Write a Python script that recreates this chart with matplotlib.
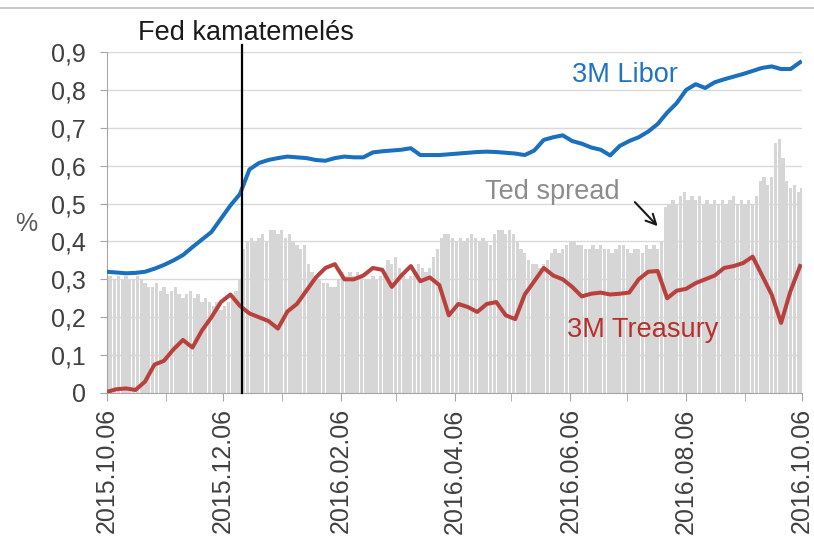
import matplotlib
matplotlib.use('Agg')
import matplotlib.pyplot as plt
import pandas as pd
from matplotlib.lines import Line2D

plt.rcParams['font.family'] = ['Liberation Sans', 'DejaVu Sans']

# ---- data ----
line_dates = pd.date_range('2015-10-06', periods=74, freq='5D')
libor = [0.320, 0.318, 0.316, 0.317, 0.320, 0.328, 0.338, 0.350, 0.364, 0.385,
         0.405, 0.425, 0.460, 0.495, 0.525, 0.590, 0.607, 0.615, 0.620, 0.624,
         0.622, 0.620, 0.615, 0.613, 0.620, 0.624, 0.622, 0.622, 0.635, 0.638,
         0.640, 0.642, 0.646, 0.628, 0.628, 0.628, 0.630, 0.632, 0.634, 0.636,
         0.637, 0.636, 0.634, 0.632, 0.628, 0.640, 0.668, 0.675, 0.680, 0.665,
         0.658, 0.648, 0.642, 0.627, 0.652, 0.665, 0.675, 0.690, 0.710, 0.740,
         0.765, 0.800, 0.815, 0.805, 0.820, 0.828, 0.835, 0.842, 0.850, 0.858,
         0.862, 0.855, 0.855, 0.873]
treasury = [0.003, 0.010, 0.012, 0.008, 0.030, 0.075, 0.085, 0.115, 0.140, 0.120,
            0.165, 0.200, 0.240, 0.260, 0.230, 0.210, 0.200, 0.190, 0.170, 0.215,
            0.235, 0.270, 0.305, 0.330, 0.340, 0.300, 0.300, 0.310, 0.330, 0.325,
            0.280, 0.310, 0.335, 0.295, 0.305, 0.285, 0.205, 0.235, 0.227, 0.214,
            0.235, 0.240, 0.205, 0.195, 0.260, 0.295, 0.330, 0.310, 0.300, 0.280,
            0.255, 0.262, 0.265, 0.260, 0.262, 0.265, 0.300, 0.320, 0.322, 0.250,
            0.270, 0.275, 0.290, 0.300, 0.310, 0.330, 0.335, 0.343, 0.360, 0.310,
            0.260, 0.185, 0.270, 0.335]

ted_dates = pd.date_range('2015-10-06', periods=184, freq='2D')
ted = [0.31, 0.31, 0.30, 0.31, 0.30, 0.31, 0.30, 0.30, 0.31, 0.30,
       0.29, 0.28, 0.28, 0.29, 0.27, 0.28, 0.26, 0.27, 0.28, 0.26,
       0.25, 0.26, 0.27, 0.25, 0.26, 0.24, 0.25, 0.24, 0.23, 0.24,
       0.22, 0.23, 0.24, 0.25, 0.27, 0.30, 0.38, 0.40, 0.41, 0.40,
       0.41, 0.42, 0.40, 0.43, 0.43, 0.42, 0.43, 0.41, 0.42, 0.40,
       0.39, 0.38, 0.39, 0.34, 0.32, 0.31, 0.30, 0.29, 0.29, 0.28,
       0.28, 0.30, 0.32, 0.31, 0.32, 0.31, 0.32, 0.31, 0.30, 0.30,
       0.31, 0.30, 0.31, 0.31, 0.35, 0.34, 0.36, 0.33, 0.31, 0.30,
       0.31, 0.32, 0.34, 0.33, 0.32, 0.33, 0.36, 0.38, 0.41, 0.42,
       0.42, 0.41, 0.40, 0.41, 0.40, 0.41, 0.42, 0.41, 0.40, 0.41,
       0.40, 0.39, 0.42, 0.43, 0.43, 0.42, 0.43, 0.42, 0.40, 0.38,
       0.37, 0.35, 0.34, 0.34, 0.33, 0.34, 0.35, 0.37, 0.38, 0.37,
       0.38, 0.39, 0.40, 0.40, 0.39, 0.39, 0.38, 0.38, 0.39, 0.38,
       0.39, 0.38, 0.38, 0.37, 0.38, 0.39, 0.39, 0.38, 0.37, 0.38,
       0.38, 0.37, 0.39, 0.38, 0.39, 0.38, 0.40, 0.49, 0.50, 0.51,
       0.50, 0.52, 0.53, 0.51, 0.52, 0.51, 0.52, 0.50, 0.51, 0.50,
       0.51, 0.50, 0.51, 0.50, 0.51, 0.52, 0.50, 0.51, 0.50, 0.51,
       0.50, 0.52, 0.56, 0.57, 0.55, 0.57, 0.66, 0.67, 0.62, 0.56,
       0.54, 0.55, 0.53, 0.54]

fed_date = '2015-12-16'
xtick_labels = ['2015.10.06', '2015.12.06', '2016.02.06', '2016.04.06',
                '2016.06.06', '2016.08.06', '2016.10.06']
xminor_labels = ['2015.11.06', '2016.01.06', '2016.03.06', '2016.05.06',
                 '2016.07.06', '2016.09.06']
ytick_values = [0, 0.1, 0.2, 0.3, 0.4, 0.5, 0.6, 0.7, 0.8, 0.9]
ytick_labels = ['0', '0,1', '0,2', '0,3', '0,4', '0,5', '0,6', '0,7', '0,8', '0,9']

# ---- figure ----
fig = plt.figure(figsize=(8.14, 5.43), dpi=100)
ax = fig.add_axes([107/814, 150/543, 695/814, 341/543])

ax.bar(ted_dates, ted, width=1.75, color='#d6d6d6', align='center', zorder=1, linewidth=0)
ax.plot(line_dates, treasury, color='#b8413d', lw=2.9, zorder=3, solid_joinstyle='round')
ax.plot(line_dates, libor, color='#1a6fbf', lw=2.9, zorder=3, solid_joinstyle='round')

fed = pd.Timestamp(fed_date)
ax.plot([fed, fed], [0, 0.918], color='black', lw=1.6, clip_on=False, zorder=4)

ax.set_ylim(0, 0.9)
ax.set_xlim(pd.Timestamp('2015-10-06'), pd.Timestamp('2016-10-06'))

ax.set_yticks(ytick_values)
ax.set_yticklabels(ytick_labels)
ax.set_xticks([pd.Timestamp(s.replace('.', '-')) for s in xtick_labels])
ax.set_xticklabels(xtick_labels, rotation=90)
ax.set_xticks([pd.Timestamp(s.replace('.', '-')) for s in xminor_labels], minor=True)

ax.grid(axis='y', color='#d9d9d9', lw=1.0, zorder=0)
ax.set_axisbelow(True)
for s in ['top', 'right']:
    ax.spines[s].set_visible(False)
for s in ['left', 'bottom']:
    ax.spines[s].set_color('#a6a6a6')
ax.tick_params(axis='y', which='both', length=5, color='#a6a6a6', labelsize=18,
               labelcolor='#404040', pad=10)
ax.tick_params(axis='x', which='both', length=6, color='#a6a6a6', labelsize=18,
               labelcolor='#404040', pad=5)

ax.set_ylabel('%', rotation=0, fontsize=18, color='#595959', va='center', ha='center')
ax.yaxis.set_label_coords(-0.1165, 0.4956)

ax.text(fed + pd.Timedelta(days=2), 0.95, 'Fed kamatemelés', fontsize=19.5,
        color='#1a1a1a', ha='center', va='center', clip_on=False)
ax.text(pd.Timestamp('2016-06-07'), 0.839, '3M Libor', fontsize=19.5,
        color='#1f73c4', ha='left', va='center')
ax.text(pd.Timestamp('2016-06-04'), 0.166, '3M Treasury', fontsize=19.5,
        color='#b5302c', ha='left', va='center')
ax.text(pd.Timestamp('2016-04-22'), 0.53, 'Ted spread', fontsize=19.5,
        color='#8c8c8c', ha='left', va='center')
ax.annotate('', xy=(pd.Timestamp('2016-07-23'), 0.435),
            xytext=(pd.Timestamp('2016-07-09'), 0.509),
            arrowprops=dict(arrowstyle='->', color='#1a1a1a', lw=1.5,
                            mutation_scale=18))

fig.add_artist(Line2D([0, 1], [1 - 8/543, 1 - 8/543], color='#bfbfbf', lw=1.2))

fig.savefig('out.png', dpi=100)
